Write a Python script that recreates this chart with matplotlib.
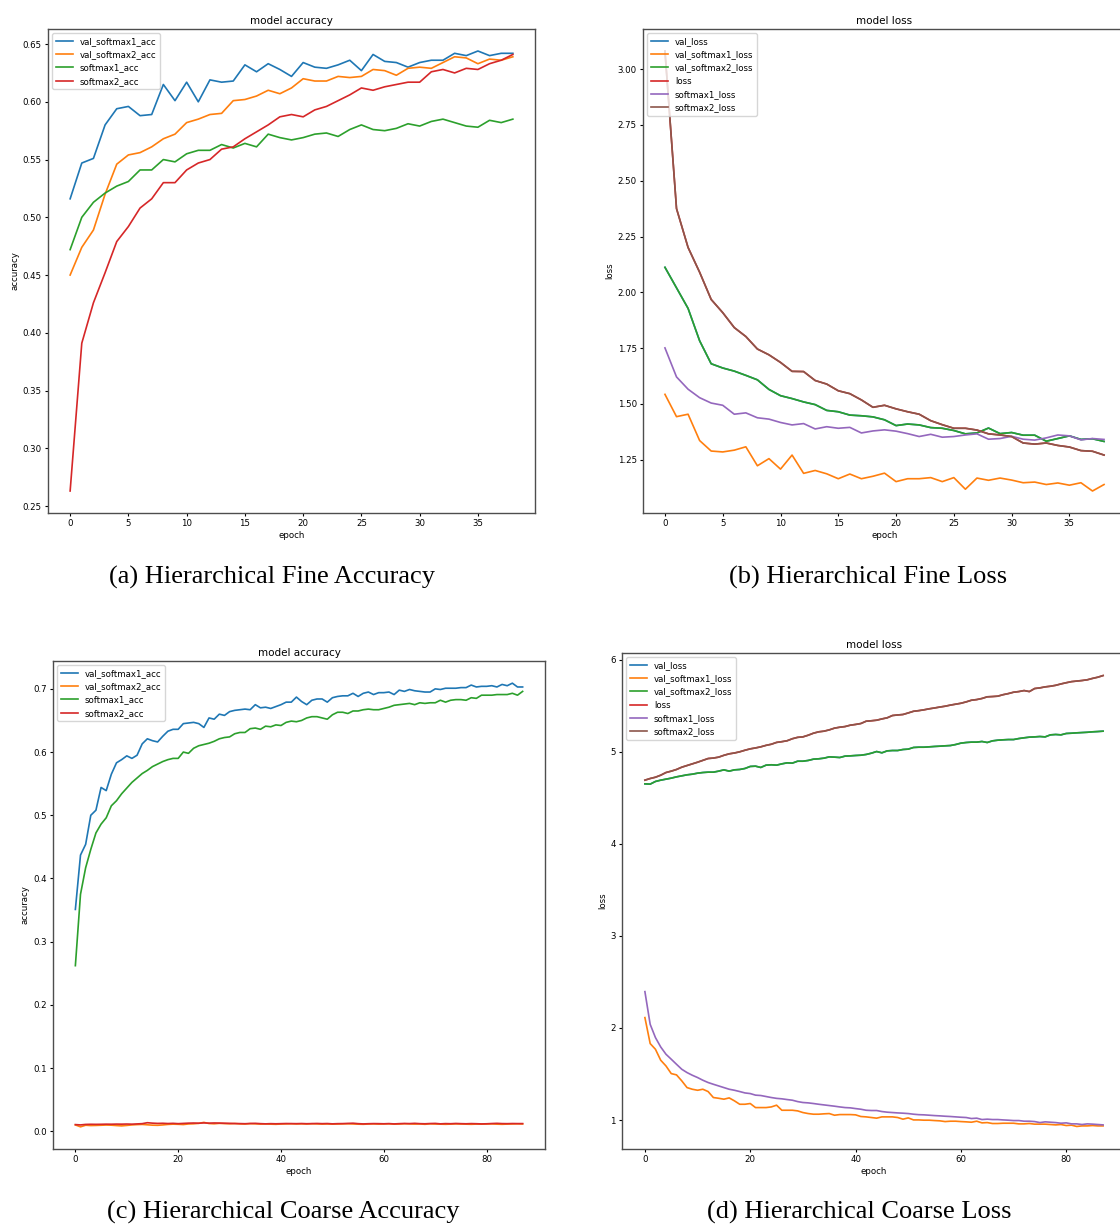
import matplotlib
matplotlib.use('Agg')
from matplotlib import pyplot as plt

# ---- fine model (39 epochs) ----
fine_val_sm1_acc = [
    0.516, 0.547, 0.551, 0.580, 0.594, 0.596, 0.588, 0.589, 0.615, 0.601,
    0.617, 0.600, 0.619, 0.617, 0.618, 0.632, 0.626, 0.633, 0.628, 0.622,
    0.634, 0.630, 0.629, 0.632, 0.636, 0.627, 0.641, 0.635, 0.634, 0.630,
    0.634, 0.636, 0.636, 0.642, 0.640, 0.644, 0.640, 0.642, 0.642]
fine_val_sm2_acc = [
    0.450, 0.474, 0.489, 0.520, 0.546, 0.554, 0.556, 0.561, 0.568, 0.572,
    0.582, 0.585, 0.589, 0.590, 0.601, 0.602, 0.605, 0.610, 0.607, 0.612,
    0.620, 0.618, 0.618, 0.622, 0.621, 0.622, 0.628, 0.627, 0.623, 0.629,
    0.630, 0.629, 0.634, 0.639, 0.638, 0.633, 0.637, 0.636, 0.639]
fine_sm1_acc = [
    0.472, 0.500, 0.513, 0.521, 0.527, 0.531, 0.541, 0.541, 0.550, 0.548,
    0.555, 0.558, 0.558, 0.563, 0.560, 0.564, 0.561, 0.572, 0.569, 0.567,
    0.569, 0.572, 0.573, 0.570, 0.576, 0.580, 0.576, 0.575, 0.577, 0.581,
    0.579, 0.583, 0.585, 0.582, 0.579, 0.578, 0.584, 0.582, 0.585]
fine_sm2_acc = [
    0.263, 0.391, 0.426, 0.452, 0.479, 0.492, 0.508, 0.516, 0.530, 0.530,
    0.541, 0.547, 0.550, 0.559, 0.561, 0.568, 0.574, 0.580, 0.587, 0.589,
    0.587, 0.593, 0.596, 0.601, 0.606, 0.612, 0.610, 0.613, 0.615, 0.617,
    0.617, 0.626, 0.628, 0.625, 0.629, 0.628, 0.633, 0.636, 0.641]

fine_val_sm1_loss = [
    1.543, 1.443, 1.454, 1.336, 1.289, 1.285, 1.293, 1.308, 1.223, 1.255,
    1.208, 1.271, 1.189, 1.202, 1.187, 1.165, 1.186, 1.165, 1.176, 1.190,
    1.152, 1.165, 1.165, 1.170, 1.152, 1.170, 1.118, 1.168, 1.158, 1.168,
    1.159, 1.147, 1.150, 1.139, 1.146, 1.136, 1.147, 1.110, 1.139]
fine_val_sm2_loss = [
    2.112, 2.020, 1.928, 1.783, 1.680, 1.661, 1.647, 1.628, 1.608, 1.565,
    1.537, 1.524, 1.509, 1.497, 1.471, 1.465, 1.450, 1.447, 1.442, 1.429,
    1.403, 1.410, 1.406, 1.394, 1.391, 1.381, 1.366, 1.370, 1.392, 1.367,
    1.372, 1.360, 1.360, 1.333, 1.345, 1.357, 1.341, 1.344, 1.332]
fine_sm1_loss = [
    1.751, 1.621, 1.566, 1.528, 1.504, 1.494, 1.454, 1.460, 1.438, 1.432,
    1.417, 1.406, 1.412, 1.388, 1.398, 1.391, 1.395, 1.370, 1.379, 1.384,
    1.378, 1.367, 1.354, 1.364, 1.351, 1.354, 1.361, 1.366, 1.342, 1.345,
    1.355, 1.342, 1.338, 1.348, 1.361, 1.357, 1.339, 1.345, 1.341]
fine_sm2_loss = [
    3.081, 2.375, 2.201, 2.090, 1.968, 1.909, 1.842, 1.802, 1.746, 1.720,
    1.686, 1.646, 1.645, 1.605, 1.589, 1.559, 1.546, 1.518, 1.485, 1.494,
    1.478, 1.465, 1.454, 1.425, 1.407, 1.391, 1.391, 1.383, 1.366, 1.361,
    1.354, 1.325, 1.320, 1.325, 1.314, 1.307, 1.291, 1.288, 1.271]
# total losses sit exactly under the softmax2 curves
fine_val_loss = list(fine_val_sm2_loss)
fine_loss = list(fine_sm2_loss)

# ---- coarse model (88 epochs) ----
coarse_val_sm1_acc = [
    0.351, 0.437, 0.454, 0.500, 0.508, 0.544, 0.539, 0.565, 0.583, 0.588,
    0.594, 0.590, 0.595, 0.613, 0.621, 0.618, 0.616, 0.625, 0.633, 0.636,
    0.636, 0.645, 0.646, 0.647, 0.645, 0.639, 0.654, 0.652, 0.660, 0.658,
    0.664, 0.666, 0.667, 0.668, 0.667, 0.675, 0.670, 0.671, 0.669, 0.672,
    0.675, 0.679, 0.679, 0.687, 0.680, 0.675, 0.682, 0.684, 0.684, 0.679,
    0.686, 0.688, 0.689, 0.689, 0.693, 0.688, 0.693, 0.695, 0.691, 0.694,
    0.694, 0.695, 0.691, 0.698, 0.696, 0.699, 0.697, 0.696, 0.695, 0.695,
    0.700, 0.699, 0.701, 0.701, 0.701, 0.702, 0.702, 0.706, 0.703, 0.704,
    0.704, 0.705, 0.703, 0.707, 0.705, 0.709, 0.703, 0.703]
coarse_val_sm2_acc = [
    0.0100, 0.0070, 0.0095, 0.0090, 0.0092, 0.0095, 0.0098, 0.0096, 0.0090, 0.0085,
    0.0092, 0.0100, 0.0105, 0.0108, 0.0102, 0.0096, 0.0094, 0.0100, 0.0108, 0.0112,
    0.0110, 0.0106, 0.0115, 0.0118, 0.0125, 0.0140, 0.0122, 0.0118, 0.0125, 0.0121,
    0.0118, 0.0122, 0.0116, 0.0114, 0.0120, 0.0117, 0.0113, 0.0115, 0.0112, 0.0110,
    0.0114, 0.0116, 0.0118, 0.0115, 0.0117, 0.0114, 0.0118, 0.0116, 0.0113, 0.0115,
    0.0112, 0.0114, 0.0116, 0.0118, 0.0115, 0.0112, 0.0110, 0.0114, 0.0116, 0.0113,
    0.0115, 0.0117, 0.0112, 0.0114, 0.0118, 0.0116, 0.0113, 0.0115, 0.0110, 0.0117,
    0.0114, 0.0112, 0.0110, 0.0113, 0.0116, 0.0114, 0.0112, 0.0110, 0.0113, 0.0112,
    0.0114, 0.0116, 0.0112, 0.0110, 0.0113, 0.0115, 0.0117, 0.0115]
coarse_sm1_acc = [
    0.262, 0.375, 0.417, 0.446, 0.472, 0.486, 0.496, 0.515, 0.523, 0.534,
    0.543, 0.552, 0.559, 0.566, 0.571, 0.577, 0.581, 0.585, 0.588, 0.590,
    0.590, 0.600, 0.598, 0.606, 0.610, 0.612, 0.614, 0.617, 0.621, 0.623,
    0.624, 0.629, 0.631, 0.631, 0.637, 0.638, 0.636, 0.641, 0.640, 0.643,
    0.642, 0.647, 0.649, 0.648, 0.650, 0.654, 0.656, 0.656, 0.654, 0.652,
    0.659, 0.663, 0.663, 0.661, 0.665, 0.665, 0.667, 0.668, 0.667, 0.667,
    0.669, 0.671, 0.674, 0.675, 0.676, 0.677, 0.675, 0.678, 0.677, 0.678,
    0.678, 0.682, 0.679, 0.682, 0.683, 0.683, 0.682, 0.686, 0.685, 0.690,
    0.690, 0.690, 0.691, 0.691, 0.691, 0.693, 0.690, 0.696]
coarse_sm2_acc = [
    0.0105, 0.0100, 0.0108, 0.0110, 0.0109, 0.0110, 0.0112, 0.0111, 0.0113, 0.0112,
    0.0114, 0.0112, 0.0116, 0.0120, 0.0135, 0.0128, 0.0124, 0.0126, 0.0122, 0.0125,
    0.0120, 0.0124, 0.0128, 0.0130, 0.0127, 0.0132, 0.0128, 0.0131, 0.0129, 0.0127,
    0.0125, 0.0122, 0.0121, 0.0119, 0.0123, 0.0125, 0.0120, 0.0117, 0.0120, 0.0118,
    0.0120, 0.0122, 0.0121, 0.0120, 0.0122, 0.0119, 0.0121, 0.0123, 0.0120, 0.0122,
    0.0117, 0.0120, 0.0121, 0.0124, 0.0127, 0.0120, 0.0116, 0.0119, 0.0121, 0.0120,
    0.0118, 0.0121, 0.0116, 0.0120, 0.0123, 0.0121, 0.0125, 0.0120, 0.0118, 0.0122,
    0.0124, 0.0117, 0.0121, 0.0119, 0.0123, 0.0120, 0.0118, 0.0121, 0.0119, 0.0116,
    0.0118, 0.0122, 0.0125, 0.0121, 0.0120, 0.0122, 0.0121, 0.0121]

coarse_val_sm1_loss = [
    2.112, 1.830, 1.768, 1.649, 1.587, 1.504, 1.490, 1.425, 1.352, 1.334,
    1.323, 1.334, 1.309, 1.244, 1.236, 1.226, 1.240, 1.208, 1.171, 1.171,
    1.179, 1.135, 1.135, 1.135, 1.142, 1.161, 1.106, 1.106, 1.106, 1.099,
    1.081, 1.070, 1.063, 1.063, 1.067, 1.070, 1.052, 1.059, 1.059, 1.059,
    1.056, 1.038, 1.034, 1.027, 1.020, 1.034, 1.034, 1.034, 1.027, 1.009,
    1.023, 1.001, 1.001, 0.998, 0.998, 0.994, 0.991, 0.983, 0.987, 0.987,
    0.983, 0.980, 0.976, 0.987, 0.969, 0.972, 0.962, 0.962, 0.965, 0.965,
    0.965, 0.958, 0.958, 0.962, 0.955, 0.955, 0.955, 0.951, 0.947, 0.951,
    0.940, 0.944, 0.930, 0.936, 0.936, 0.940, 0.936, 0.936]
coarse_val_sm2_loss = [
    4.650, 4.647, 4.676, 4.690, 4.701, 4.712, 4.726, 4.737, 4.748, 4.755,
    4.766, 4.773, 4.777, 4.777, 4.788, 4.802, 4.788, 4.802, 4.806, 4.817,
    4.839, 4.842, 4.828, 4.853, 4.857, 4.853, 4.867, 4.878, 4.875, 4.896,
    4.896, 4.904, 4.918, 4.922, 4.929, 4.943, 4.940, 4.936, 4.951, 4.954,
    4.958, 4.961, 4.969, 4.983, 5.001, 4.987, 5.008, 5.012, 5.012, 5.023,
    5.027, 5.045, 5.048, 5.048, 5.052, 5.056, 5.059, 5.063, 5.066, 5.077,
    5.092, 5.099, 5.103, 5.103, 5.110, 5.099, 5.117, 5.124, 5.128, 5.131,
    5.131, 5.142, 5.150, 5.157, 5.160, 5.164, 5.160, 5.182, 5.186, 5.182,
    5.197, 5.200, 5.204, 5.207, 5.210, 5.215, 5.218, 5.222]
coarse_sm1_loss = [
    2.394, 2.039, 1.895, 1.793, 1.714, 1.660, 1.605, 1.551, 1.515, 1.486,
    1.461, 1.432, 1.407, 1.388, 1.370, 1.352, 1.334, 1.323, 1.309, 1.294,
    1.287, 1.270, 1.266, 1.255, 1.244, 1.235, 1.230, 1.222, 1.215, 1.200,
    1.190, 1.186, 1.179, 1.171, 1.164, 1.157, 1.150, 1.142, 1.135, 1.132,
    1.124, 1.117, 1.106, 1.103, 1.103, 1.092, 1.085, 1.081, 1.077, 1.074,
    1.070, 1.063, 1.058, 1.056, 1.052, 1.048, 1.045, 1.041, 1.038, 1.034,
    1.030, 1.027, 1.016, 1.020, 1.005, 1.009, 1.005, 1.005, 1.001, 0.998,
    0.994, 0.994, 0.987, 0.987, 0.983, 0.972, 0.980, 0.976, 0.972, 0.965,
    0.969, 0.958, 0.958, 0.951, 0.958, 0.955, 0.951, 0.947]
coarse_sm2_loss = [
    4.690, 4.708, 4.722, 4.744, 4.773, 4.788, 4.806, 4.831, 4.849, 4.867,
    4.885, 4.905, 4.925, 4.930, 4.940, 4.960, 4.976, 4.985, 4.998, 5.015,
    5.030, 5.040, 5.052, 5.068, 5.080, 5.100, 5.108, 5.118, 5.140, 5.155,
    5.160, 5.178, 5.200, 5.215, 5.222, 5.236, 5.255, 5.265, 5.272, 5.287,
    5.295, 5.305, 5.330, 5.335, 5.341, 5.355, 5.367, 5.392, 5.398, 5.403,
    5.420, 5.438, 5.445, 5.454, 5.465, 5.474, 5.484, 5.493, 5.505, 5.515,
    5.525, 5.540, 5.558, 5.565, 5.577, 5.595, 5.598, 5.602, 5.618, 5.630,
    5.645, 5.652, 5.663, 5.652, 5.685, 5.692, 5.703, 5.710, 5.720, 5.735,
    5.748, 5.760, 5.766, 5.772, 5.780, 5.795, 5.808, 5.826]
coarse_val_loss = list(coarse_val_sm2_loss)
coarse_loss = list(coarse_sm2_loss)

acc_labels = ['val_softmax1_acc', 'val_softmax2_acc', 'softmax1_acc', 'softmax2_acc']
loss_labels = ['val_loss', 'val_softmax1_loss', 'val_softmax2_loss',
               'loss', 'softmax1_loss', 'softmax2_loss']
captions = ['(a) Hierarchical Fine Accuracy', '(b) Hierarchical Fine Loss',
            '(c) Hierarchical Coarse Accuracy', '(d) Hierarchical Coarse Loss']

W, H = 1120, 1225
# the keras plots were shrunk to ~62% when placed in the paper
k = 0.62
plt.rcParams['font.size'] = 10 * k
plt.rcParams['axes.titlesize'] = 12 * k
plt.rcParams['axes.titlepad'] = 6 * k
plt.rcParams['axes.labelpad'] = 4 * k
plt.rcParams['lines.linewidth'] = 1.2
for a in ('xtick', 'ytick'):
    plt.rcParams[a + '.major.size'] = 3.5 * k
    plt.rcParams[a + '.major.pad'] = 3.5 * k
    plt.rcParams[a + '.major.width'] = 0.8


def box(l, t, r, b):
    # pixel box -> figure fraction
    return [l / W, 1 - b / H, (r - l) / W, (b - t) / H]


def history(rect, series, labels, title, ylabel):
    ax = fig.add_axes(box(*rect))
    for s in series:
        ax.plot(s)
    ax.set_title(title)
    ax.set_ylabel(ylabel)
    ax.set_xlabel('epoch')
    ax.legend(labels, loc='upper left')
    for sp in ax.spines.values():
        sp.set_color('0.3')
        sp.set_linewidth(1.0)
    return ax


fig = plt.figure(figsize=(W / 100, H / 100), dpi=100)

history((48, 29, 535, 513),
        [fine_val_sm1_acc, fine_val_sm2_acc, fine_sm1_acc, fine_sm2_acc],
        acc_labels, 'model accuracy', 'accuracy')
history((643, 29, 1126, 513),
        [fine_val_loss, fine_val_sm1_loss, fine_val_sm2_loss,
         fine_loss, fine_sm1_loss, fine_sm2_loss],
        loss_labels, 'model loss', 'loss')
history((53, 661, 545, 1149),
        [coarse_val_sm1_acc, coarse_val_sm2_acc, coarse_sm1_acc, coarse_sm2_acc],
        acc_labels, 'model accuracy', 'accuracy')
history((622, 653, 1126, 1149),
        [coarse_val_loss, coarse_val_sm1_loss, coarse_val_sm2_loss,
         coarse_loss, coarse_sm1_loss, coarse_sm2_loss],
        loss_labels, 'model loss', 'loss')

# paper captions
cap_pos = [(272, 577), (868, 577), (283, 1212), (859, 1212)]
for txt, (x, y) in zip(captions, cap_pos):
    fig.text(x / W, 1 - y / H, txt, ha='center', va='center',
             family=['Liberation Serif', 'DejaVu Serif'], fontsize=19)

fig.savefig('out.png', dpi=100)
